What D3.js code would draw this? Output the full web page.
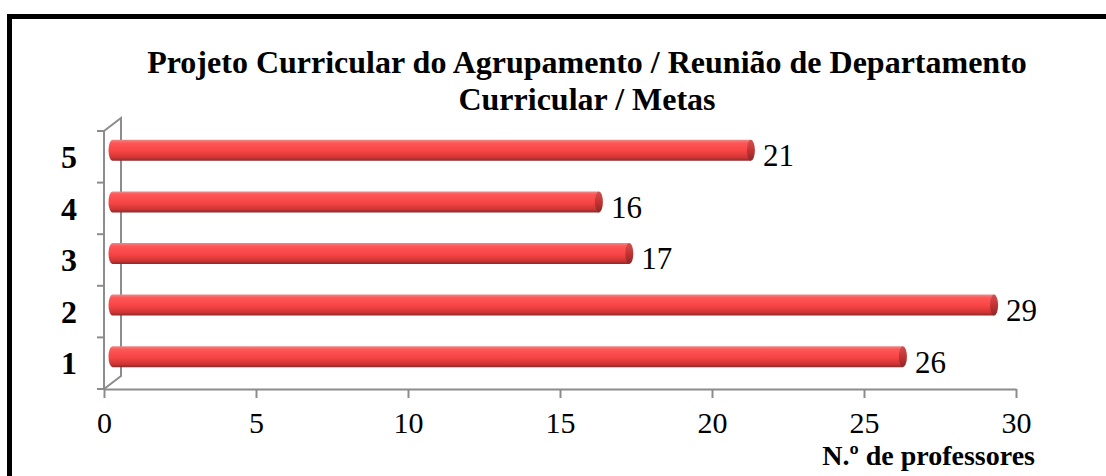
<!DOCTYPE html>
<html>
<head>
<meta charset="utf-8">
<script src="https://cdn.jsdelivr.net/npm/d3@7"></script>
<style>
  body { margin: 0; background: #fff; }
  svg { display: block; font-family: "Times New Roman", "Liberation Serif", serif; }
  .axis path, .axis line { stroke: #8c8c8c; stroke-width: 2; }
  .axis text { fill: #000; }
</style>
</head>
<body>
<svg width="1106" height="476"></svg>
<script>
const categories = ["1", "2", "3", "4", "5"];
const values = [26, 29, 17, 16, 21];
const xTicks = [0, 5, 10, 15, 20, 25, 30];
const titleLines = ["Projeto Curricular do Agrupamento / Reunião de Departamento", "Curricular / Metas"];
const xTitle = "N.º de professores";

const svg = d3.select("svg");

// frame
svg.append("rect")
	.attr("x", 9.5).attr("y", 16.5)
	.attr("width", 1200).attr("height", 600)
	.attr("fill", "none").attr("stroke", "#000").attr("stroke-width", 5);

const x = d3.scaleLinear().domain([0, 30]).range([104, 1016]);
const y = d3.scaleBand().domain(categories).range([389, 131]).paddingInner(0);
const depth = { dx: 17, dy: -13 };
const barH = 21;

const defs = svg.append("defs");
const grad = defs.append("linearGradient").attr("id", "cyl").attr("x1", 0).attr("y1", 0).attr("x2", 0).attr("y2", 1);
grad.append("stop").attr("offset", "0%").attr("stop-color", "#e98a8a");
grad.append("stop").attr("offset", "15%").attr("stop-color", "#ff5656");
grad.append("stop").attr("offset", "55%").attr("stop-color", "#f64444");
grad.append("stop").attr("offset", "85%").attr("stop-color", "#cf3434");
grad.append("stop").attr("offset", "100%").attr("stop-color", "#8a2a2a");
const capGrad = defs.append("linearGradient").attr("id", "cap").attr("x1", 0).attr("y1", 0).attr("x2", 0).attr("y2", 1);
capGrad.append("stop").attr("offset", "0%").attr("stop-color", "#d35050");
capGrad.append("stop").attr("offset", "50%").attr("stop-color", "#c23434");
capGrad.append("stop").attr("offset", "100%").attr("stop-color", "#8e2626");

// title
svg.append("text")
	.attr("x", 587).attr("y", 73)
	.attr("text-anchor", "middle")
	.attr("font-size", 32).attr("font-weight", "bold")
	.selectAll("tspan").data(titleLines).join("tspan")
	.attr("x", 587).attr("dy", (d, i) => i === 0 ? 0 : 37)
	.text(d => d);

// 3D walls
const g3 = svg.append("g").attr("fill", "none").attr("stroke", "#8c8c8c").attr("stroke-width", 2);
const y0 = y.range()[0], y1 = y.range()[1];
g3.append("path").attr("d", d3.line()([
	[x(0), y1], [x(0) + depth.dx, y1 + depth.dy], [x(0) + depth.dx, y0 + depth.dy], [x(0), y0]
]));

// x axis
svg.append("g").attr("class", "axis")
	.attr("transform", `translate(0,${y0})`)
	.call(d3.axisBottom(x).tickValues(xTicks).tickSize(9).tickSizeOuter(0).tickPadding(14))
	.attr("font-family", null).attr("font-size", 30);

// y axis: line + boundary ticks
const yAxis = svg.append("g").attr("class", "axis");
yAxis.append("line").attr("x1", x(0)).attr("x2", x(0)).attr("y1", y1).attr("y2", y0);
const bounds = categories.map(c => y(c)).concat([y0]);
yAxis.selectAll(".tk").data(bounds).join("line").attr("class", "tk")
	.attr("x1", x(0) - 7).attr("x2", x(0)).attr("y1", d => d).attr("y2", d => d);
yAxis.selectAll(".lbl").data(categories).join("text").attr("class", "lbl")
	.attr("x", 77).attr("y", d => y(d) + y.bandwidth() / 2)
	.attr("dy", "0.35em").attr("text-anchor", "end")
	.attr("font-size", 32).attr("font-weight", "bold")
	.text(d => d);

// bars (cylinders)
const data = categories.map((c, i) => ({ cat: c, value: values[i] }));
const cx = d => x(d) + depth.dx / 2;
const cy = d => y(d.cat) + y.bandwidth() / 2 + depth.dy / 2;
const rx = 4;

const bars = svg.append("g").selectAll("g").data(data).join("g");
bars.append("path")
	.attr("fill", "url(#cyl)")
	.attr("d", d => {
		const xs = cx(0), xe = cx(d.value), yt = cy(d) - barH / 2, yb = cy(d) + barH / 2;
		return `M${xe},${yt} L${xs},${yt} A${rx},${barH / 2} 0 0 0 ${xs},${yb} L${xe},${yb} Z`;
	});
bars.append("ellipse")
	.attr("cx", d => cx(d.value)).attr("cy", d => cy(d))
	.attr("rx", rx).attr("ry", barH / 2)
	.attr("fill", "url(#cap)");

// value labels
svg.append("g").selectAll("text").data(data).join("text")
	.attr("x", d => cx(d.value) + rx + 8)
	.attr("y", d => cy(d) + 5)
	.attr("dy", "0.35em")
	.attr("font-size", 31)
	.text(d => d.value);

// x title
svg.append("text")
	.attr("x", 1035).attr("y", 465)
	.attr("text-anchor", "end")
	.attr("font-size", 28).attr("font-weight", "bold")
	.text(xTitle);
</script>
</body>
</html>
